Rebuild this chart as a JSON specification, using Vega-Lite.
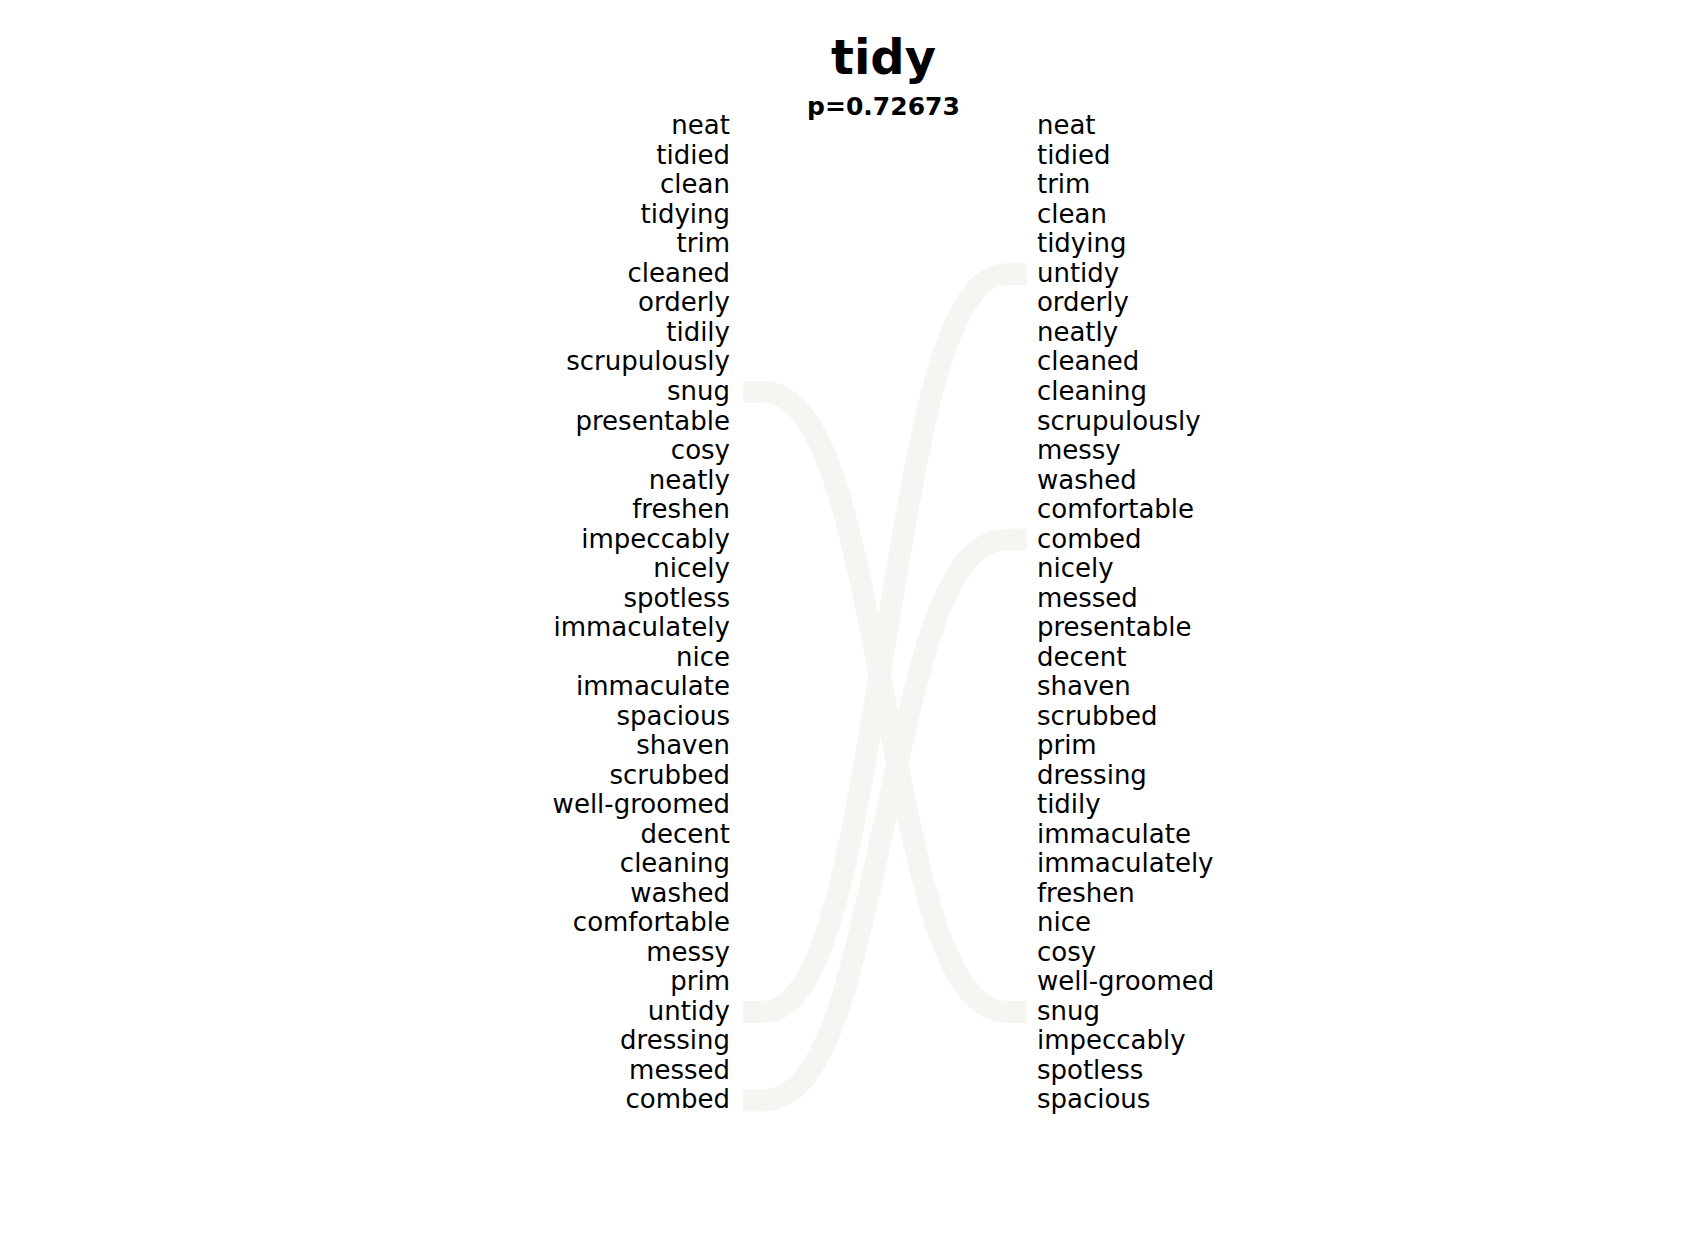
{
  "$schema": "https://vega.github.io/schema/vega-lite/v6.json",
  "width": 1700,
  "height": 1246,
  "autosize": {"type": "fit", "contains": "padding"},
  "padding": 0,
  "config": {"view": {"stroke": null}, "font": "DejaVu Sans"},
  "datasets": {
    "words": [
      {"side": 0, "rank": 0, "word": "neat"}, {"side": 0, "rank": 1, "word": "tidied"}, {"side": 0, "rank": 2, "word": "clean"}, {"side": 0, "rank": 3, "word": "tidying"}, {"side": 0, "rank": 4, "word": "trim"}, {"side": 0, "rank": 5, "word": "cleaned"}, {"side": 0, "rank": 6, "word": "orderly"}, {"side": 0, "rank": 7, "word": "tidily"}, {"side": 0, "rank": 8, "word": "scrupulously"}, {"side": 0, "rank": 9, "word": "snug"}, {"side": 0, "rank": 10, "word": "presentable"}, {"side": 0, "rank": 11, "word": "cosy"}, {"side": 0, "rank": 12, "word": "neatly"}, {"side": 0, "rank": 13, "word": "freshen"}, {"side": 0, "rank": 14, "word": "impeccably"}, {"side": 0, "rank": 15, "word": "nicely"}, {"side": 0, "rank": 16, "word": "spotless"}, {"side": 0, "rank": 17, "word": "immaculately"}, {"side": 0, "rank": 18, "word": "nice"}, {"side": 0, "rank": 19, "word": "immaculate"}, {"side": 0, "rank": 20, "word": "spacious"}, {"side": 0, "rank": 21, "word": "shaven"}, {"side": 0, "rank": 22, "word": "scrubbed"}, {"side": 0, "rank": 23, "word": "well-groomed"}, {"side": 0, "rank": 24, "word": "decent"}, {"side": 0, "rank": 25, "word": "cleaning"}, {"side": 0, "rank": 26, "word": "washed"}, {"side": 0, "rank": 27, "word": "comfortable"}, {"side": 0, "rank": 28, "word": "messy"}, {"side": 0, "rank": 29, "word": "prim"}, {"side": 0, "rank": 30, "word": "untidy"}, {"side": 0, "rank": 31, "word": "dressing"}, {"side": 0, "rank": 32, "word": "messed"}, {"side": 0, "rank": 33, "word": "combed"},
      {"side": 1, "rank": 0, "word": "neat"}, {"side": 1, "rank": 1, "word": "tidied"}, {"side": 1, "rank": 2, "word": "trim"}, {"side": 1, "rank": 3, "word": "clean"}, {"side": 1, "rank": 4, "word": "tidying"}, {"side": 1, "rank": 5, "word": "untidy"}, {"side": 1, "rank": 6, "word": "orderly"}, {"side": 1, "rank": 7, "word": "neatly"}, {"side": 1, "rank": 8, "word": "cleaned"}, {"side": 1, "rank": 9, "word": "cleaning"}, {"side": 1, "rank": 10, "word": "scrupulously"}, {"side": 1, "rank": 11, "word": "messy"}, {"side": 1, "rank": 12, "word": "washed"}, {"side": 1, "rank": 13, "word": "comfortable"}, {"side": 1, "rank": 14, "word": "combed"}, {"side": 1, "rank": 15, "word": "nicely"}, {"side": 1, "rank": 16, "word": "messed"}, {"side": 1, "rank": 17, "word": "presentable"}, {"side": 1, "rank": 18, "word": "decent"}, {"side": 1, "rank": 19, "word": "shaven"}, {"side": 1, "rank": 20, "word": "scrubbed"}, {"side": 1, "rank": 21, "word": "prim"}, {"side": 1, "rank": 22, "word": "dressing"}, {"side": 1, "rank": 23, "word": "tidily"}, {"side": 1, "rank": 24, "word": "immaculate"}, {"side": 1, "rank": 25, "word": "immaculately"}, {"side": 1, "rank": 26, "word": "freshen"}, {"side": 1, "rank": 27, "word": "nice"}, {"side": 1, "rank": 28, "word": "cosy"}, {"side": 1, "rank": 29, "word": "well-groomed"}, {"side": 1, "rank": 30, "word": "snug"}, {"side": 1, "rank": 31, "word": "impeccably"}, {"side": 1, "rank": 32, "word": "spotless"}, {"side": 1, "rank": 33, "word": "spacious"}
    ],
    "links": [
      {"word": "snug", "order": 0, "x": 0.043, "rank": 9}, {"word": "snug", "order": 1, "x": 0.36, "rank": 9}, {"word": "snug", "order": 2, "x": 0.65, "rank": 30}, {"word": "snug", "order": 3, "x": 0.967, "rank": 30},
      {"word": "untidy", "order": 0, "x": 0.043, "rank": 30}, {"word": "untidy", "order": 1, "x": 0.36, "rank": 30}, {"word": "untidy", "order": 2, "x": 0.65, "rank": 5}, {"word": "untidy", "order": 3, "x": 0.967, "rank": 5},
      {"word": "combed", "order": 0, "x": 0.043, "rank": 33}, {"word": "combed", "order": 1, "x": 0.36, "rank": 33}, {"word": "combed", "order": 2, "x": 0.65, "rank": 14}, {"word": "combed", "order": 3, "x": 0.967, "rank": 14}
    ],
    "titles": [
      {"text": "tidy", "x": 0.5, "rank": -2.25, "size": 48},
      {"text": "p=0.72673", "x": 0.5, "rank": -0.66, "size": 25}
    ]
  },
  "layer": [
    {
      "data": {"name": "links"},
      "mark": {"type": "line", "interpolate": "basis", "strokeWidth": 22, "color": "#f7f5f2", "strokeCap": "butt"},
      "encoding": {
        "x": {"field": "x", "type": "quantitative", "scale": {"domain": [-2.378, 3.16], "nice": false, "zero": false}, "axis": null},
        "y": {"field": "rank", "type": "quantitative", "scale": {"domain": [-4.28, 37.93], "reverse": true, "nice": false, "zero": false}, "axis": null},
        "detail": {"field": "word"},
        "order": {"field": "order"}
      }
    },
    {
      "data": {"name": "words"},
      "transform": [{"filter": "datum.side == 0"}],
      "mark": {"type": "text", "align": "right", "baseline": "middle", "fontSize": 26, "color": "#000"},
      "encoding": {
        "x": {"field": "side", "type": "quantitative"},
        "y": {"field": "rank", "type": "quantitative"},
        "text": {"field": "word"}
      }
    },
    {
      "data": {"name": "words"},
      "transform": [{"filter": "datum.side == 1"}],
      "mark": {"type": "text", "align": "left", "baseline": "middle", "fontSize": 26, "color": "#000"},
      "encoding": {
        "x": {"field": "side", "type": "quantitative"},
        "y": {"field": "rank", "type": "quantitative"},
        "text": {"field": "word"}
      }
    },
    {
      "data": {"name": "titles"},
      "mark": {"type": "text", "align": "center", "baseline": "middle", "fontWeight": "bold", "color": "#000"},
      "encoding": {
        "x": {"field": "x", "type": "quantitative"},
        "y": {"field": "rank", "type": "quantitative"},
        "text": {"field": "text"},
        "size": {"field": "size", "type": "quantitative", "scale": null}
      }
    }
  ]
}
